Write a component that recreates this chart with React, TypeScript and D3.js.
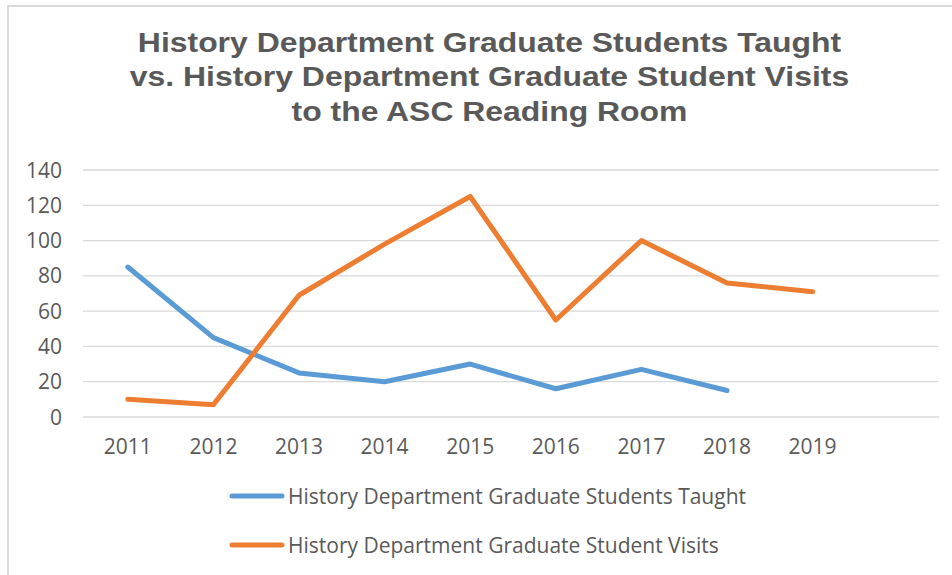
import React, { useEffect, useRef } from 'react';
import * as d3 from 'd3';

// Chart data
const years = ['2011', '2012', '2013', '2014', '2015', '2016', '2017', '2018', '2019'];
const taught = [85, 45, 25, 20, 30, 16, 27, 15];
const visits = [10, 7, 69, 98, 125, 55, 100, 76, 71];
const yTicks = [0, 20, 40, 60, 80, 100, 120, 140];
const seriesNames = [
  'History Department Graduate Students Taught',
  'History Department Graduate Student Visits',
];
const titleLines = [
  'History Department Graduate  Students Taught',
  'vs. History Department Graduate Student Visits',
  'to the ASC Reading Room',
];

const W = 952;
const H = 575;
const colors = ['#5B9BD5', '#ED7D31'];
const textColor = '#595959';

const App = () => {
  const ref = useRef<SVGSVGElement>(null);

  useEffect(() => {
    const svg = d3.select(ref.current);
    svg.selectAll('*').remove();

    const plot = { left: 83, right: 939, top: 170, bottom: 417 };

    // Excel leaves one empty category slot after the last year
    const x = d3.scaleBand<string>()
      .domain([...years, ''])
      .range([plot.left + 2, plot.right + 2]);
    const xc = (d: string) => (x(d) ?? 0) + x.bandwidth() / 2;

    const y = d3.scaleLinear()
      .domain([0, 140])
      .range([plot.bottom, plot.top]);

    // Chart border
    svg.append('rect')
      .attr('x', 8)
      .attr('y', 6)
      .attr('width', W)
      .attr('height', H)
      .attr('fill', 'white')
      .attr('stroke', '#d9d9d9')
      .attr('stroke-width', 2);

    // Title (the source picture is stretched a bit horizontally)
    svg.append('g')
      .attr('transform', 'translate(489.5, 0) scale(1.14, 1)')
      .selectAll('text')
      .data(titleLines)
      .enter()
      .append('text')
        .attr('x', 0)
        .attr('y', (d, i) => 52 + i * 34.5)
        .attr('text-anchor', 'middle')
        .attr('font-family', '"Liberation Sans", Arial, sans-serif')
        .attr('font-weight', 'bold')
        .attr('font-size', 28)
        .attr('fill', textColor)
        .text(d => d);

    // Gridlines
    svg.append('g')
      .selectAll('line')
      .data(yTicks)
      .enter()
      .append('line')
        .attr('x1', plot.left)
        .attr('x2', plot.right)
        .attr('y1', d => y(d))
        .attr('y2', d => y(d))
        .attr('stroke', '#d9d9d9')
        .attr('stroke-width', 1.3);

    // Y tick labels
    svg.append('g')
      .selectAll('text')
      .data(yTicks)
      .enter()
      .append('text')
        .attr('x', 62)
        .attr('y', d => y(d))
        .attr('dy', '0.36em')
        .attr('text-anchor', 'end')
        .attr('font-family', '"Open Sans", sans-serif')
        .attr('font-size', 21)
        .attr('fill', textColor)
        .text(d => d);

    // X tick labels
    svg.append('g')
      .selectAll('text')
      .data(years)
      .enter()
      .append('text')
        .attr('x', d => xc(d))
        .attr('y', 454)
        .attr('text-anchor', 'middle')
        .attr('font-family', '"Open Sans", sans-serif')
        .attr('font-size', 21)
        .attr('fill', textColor)
        .text(d => d);

    const line = d3.line<number>()
      .x((d, i) => xc(years[i]))
      .y(d => y(d));

    [taught, visits].forEach((data, i) => {
      svg.append('path')
        .datum(data)
        .attr('d', line)
        .attr('fill', 'none')
        .attr('stroke', colors[i])
        .attr('stroke-width', 5)
        .attr('stroke-linejoin', 'round')
        .attr('stroke-linecap', 'round');
    });

    // Legend
    const legend = svg.append('g')
      .selectAll('g')
      .data(seriesNames)
      .enter()
      .append('g')
        .attr('transform', (d, i) => `translate(232, ${496 + i * 49})`);

    legend.append('line')
      .attr('x1', 0)
      .attr('x2', 50)
      .attr('stroke', (d, i) => colors[i])
      .attr('stroke-width', 5)
      .attr('stroke-linecap', 'round');

    legend.append('text')
      .attr('x', 56)
      .attr('dy', '0.36em')
      .attr('font-family', '"Open Sans", sans-serif')
      .attr('font-size', 21)
      .attr('fill', textColor)
      .text(d => d);
  }, []);

  return (
    <svg
      ref={ref}
      width={W}
      height={H}
      style={{ position: 'absolute', left: 0, top: 0 }}
    />
  );
};

export default App;
